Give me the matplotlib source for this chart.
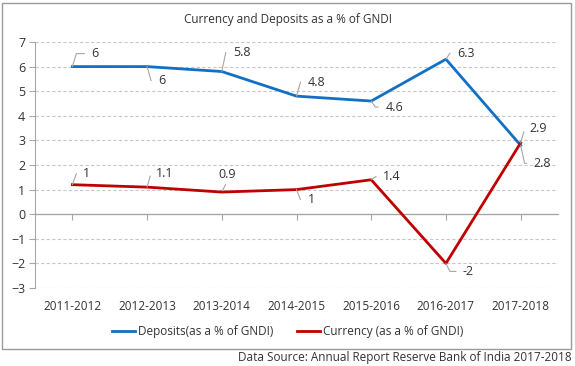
import numpy as np
import matplotlib
matplotlib.use("Agg")
import matplotlib.pyplot as plt
from matplotlib.patches import Rectangle

plt.rcParams['font.family'] = ['Open Sans', 'DejaVu Sans']
plt.rcParams['text.color'] = '#333333'
plt.rcParams['xtick.color'] = '#333333'
plt.rcParams['ytick.color'] = '#333333'

# Data
years = ['2011-2012', '2012-2013', '2013-2014', '2014-2015', '2015-2016', '2016-2017', '2017-2018']
deposits = [6.0, 6.0, 5.8, 4.8, 4.6, 6.3, 2.8]
currency = [1.2, 1.1, 0.9, 1.0, 1.4, -2.0, 2.9]
deposit_labels = ['6', '6', '5.8', '4.8', '4.6', '6.3', '2.8']
currency_labels = ['1', '1.1', '0.9', '1', '1.4', '-2', '2.9']

# label offsets in pixels (dx, dy) from the point to the text's left edge
dep_offsets = [(19, 13), (11, -14), (11, 19), (11, 14), (14, -6), (11, 6), (13, -18)]
cur_offsets = [(11, 11), (9, 14), (-3, 18), (11, -10), (12, 3), (17, -8), (9, 14)]

BLUE = '#1270c4'
RED = '#c00000'
GRID = '#c8c8c8'
AXIS = '#a6a6a6'
LEADER = '#a6a6a6'
FS = 8.5

fig = plt.figure(figsize=(5.75, 3.66), dpi=100)
ax = fig.add_axes([35 / 575, 1 - 288 / 366, 523 / 575, 246 / 366])

x = np.arange(len(years))
ax.plot(x, deposits, color=BLUE, lw=2, label='Deposits(as a % of GNDI)', zorder=3)
ax.plot(x, currency, color=RED, lw=2, label='Currency (as a % of GNDI)', zorder=3)

ax.set_xlim(-0.5, len(years) - 0.5)
ax.set_ylim(-3, 7)
yticks = list(range(-3, 8))
ax.set_yticks(yticks)
for yv in yticks:
    if yv != 0:
        ax.axhline(yv, color=GRID, lw=0.8, ls=(0, (3, 2)), zorder=0)
ax.axhline(0, color=AXIS, lw=0.9, zorder=1)

for s in ['top', 'right', 'bottom']:
    ax.spines[s].set_visible(False)
ax.spines['left'].set_color(AXIS)
ax.tick_params(axis='y', length=4, color=AXIS, pad=3, labelsize=FS + 0.5)
ax.set_xticks(x, years)
ax.tick_params(axis='x', length=0, pad=9, labelsize=FS)

# tick marks on the zero line
sec = ax.secondary_xaxis((0 - (-3)) / 10)
sec.set_xticks(x, [''] * len(x))
sec.tick_params(length=4, color=AXIS)
sec.spines['bottom'].set_color(AXIS)


def add_labels(vals, labels, offsets):
    for i, (v, lab, (dx, dy)) in enumerate(zip(vals, labels, offsets)):
        if abs(dx) < 5:
            ap = dict(arrowstyle='-', color=LEADER, lw=0.8, shrinkA=1, shrinkB=1,
                      relpos=(0.5, 0))
            ax.annotate(lab, (x[i], v), xytext=(dx, dy), textcoords='offset pixels',
                        ha='left', va='center', fontsize=FS + 0.5, arrowprops=ap)
        else:
            ang = np.degrees(np.arctan2(dy, 4))
            ap = dict(arrowstyle='-', color=LEADER, lw=0.8, shrinkA=3, shrinkB=0,
                      relpos=(0, 0.5),
                      connectionstyle=f'angle,angleA=0,angleB={ang:.1f},rad=0')
            ax.annotate(lab, (x[i], v), xytext=(dx, dy), textcoords='offset pixels',
                        ha='left', va='center', fontsize=FS + 0.5, arrowprops=ap)


add_labels(deposits, deposit_labels, dep_offsets)
add_labels(currency, currency_labels, cur_offsets)

fig.text(0.5, 1 - 20 / 366, 'Currency and Deposits as a % of GNDI', ha='center', va='center',
         fontsize=FS)
fig.legend(loc='center', bbox_to_anchor=(0.5, 1 - 332 / 366), ncol=2, frameon=False,
           fontsize=FS, handlelength=2.0, handletextpad=0.2, columnspacing=2.0)
fig.text(0.995, 1 - 358 / 366, 'Data Source: Annual Report Reserve Bank of India 2017-2018',
         ha='right', va='center', fontsize=FS)

fig.patches.append(Rectangle((2 / 575, 17 / 366), 569 / 575, 346 / 366,
                             transform=fig.transFigure, fill=False, ec='#9a9a9a', lw=1))

fig.savefig('out.png', dpi=100)
